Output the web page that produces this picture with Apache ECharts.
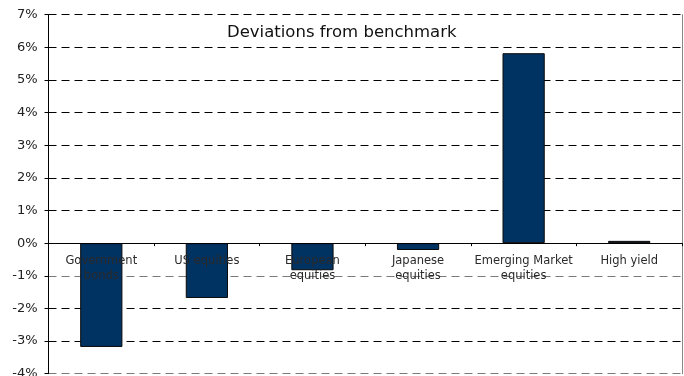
<!DOCTYPE html>
<html>
<head>
<meta charset="utf-8">
<script src="https://cdn.jsdelivr.net/npm/echarts@6/dist/echarts.min.js"></script>
<style>
  html, body { margin: 0; padding: 0; background: #fff; }
  #chart { width: 684px; height: 376px; }
</style>
</head>
<body>
<div id="chart"></div>
<script>
// Asset-class deviations from the benchmark, in percent
const categories = ['Government\nbonds', 'US equities', 'European\nequities', 'Japanese\nequities', 'Emerging Market\nequities', 'High yield'];
const deviations = [-3.18, -1.68, -0.83, -0.21, 5.82, 0.07];
const yMin = -4;
const yMax = 7;
const yStep = 1;
const titleText = 'Deviations from benchmark';

const fontFamily = "'DejaVu Sans', sans-serif";
const chart = echarts.init(document.getElementById('chart'), null, { renderer: 'canvas' });

// Gridline colours cycle from the bottom line upwards
const gridColors = [];
for (let v = yMin; v <= yMax; v += yStep) {
  gridColors.push(v === -4 || v === -1 ? '#7a7a7a' : '#000');
}

const labelGap = 10.5; // distance of category labels below the zero line

chart.setOption({
  animation: false,
  backgroundColor: '#fff',
  title: {
    text: titleText,
    left: 222,
    top: 19,
    textStyle: { fontFamily: fontFamily, fontSize: 16.5, fontWeight: 'normal', color: '#111' }
  },
  grid: { left: 48.5, right: 2, top: 14.7, bottom: 2.3, containLabel: false, outerBoundsMode: 'none' },
  xAxis: {
    type: 'category',
    data: categories,
    z: 5,
    axisLine: { onZero: true, onZeroAxisIndex: 0, lineStyle: { color: '#000', width: 1 } },
    axisTick: { show: true, length: 3, lineStyle: { color: '#000' } },
    axisLabel: {
      interval: 0,
      margin: labelGap,
      fontFamily: fontFamily,
      fontSize: 11.5,
      lineHeight: 15,
      color: '#2a2a2a'
    },
    splitLine: { show: false }
  },
  yAxis: [
    {
      type: 'value',
      min: yMin,
      max: yMax,
      interval: yStep,
      axisLine: { show: true, lineStyle: { color: '#000', width: 1 } },
      axisTick: { show: true, length: 4, lineStyle: { color: '#000' } },
      axisLabel: {
        formatter: '{value}%',
        margin: 11,
        fontFamily: fontFamily,
        fontSize: 13,
        color: '#222'
      },
      splitLine: {
        show: true,
        lineStyle: { type: [8, 5], color: gridColors, width: 1 }
      }
    },
    {
      // right-hand frame edge
      type: 'value',
      min: yMin,
      max: yMax,
      interval: yStep,
      position: 'right',
      axisLine: { show: true, lineStyle: { color: '#888', width: 1 } },
      axisTick: { show: false },
      axisLabel: { show: false },
      splitLine: { show: false }
    }
  ],
  series: [
    {
      type: 'bar',
      data: deviations,
      barWidth: '40%',
      itemStyle: { color: '#003262', borderColor: '#0a0a0a', borderWidth: 1 }
    }
  ]
});

// Category labels sit just under the zero line rather than at the frame bottom
const yZero = chart.convertToPixel({ yAxisIndex: 0 }, 0);
const yBottom = chart.convertToPixel({ yAxisIndex: 0 }, yMin);
chart.setOption({
  xAxis: { axisLabel: { margin: labelGap - (yBottom - yZero) } }
});
</script>
</body>
</html>
